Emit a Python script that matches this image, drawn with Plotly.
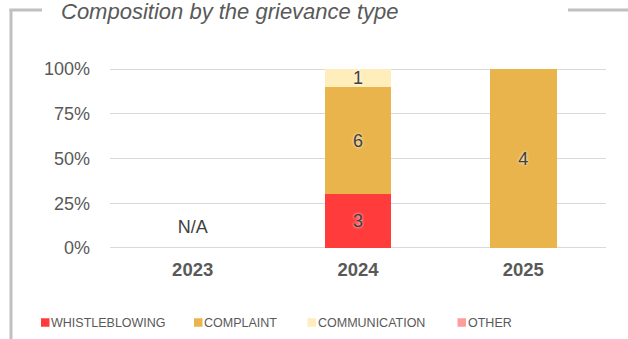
import plotly.graph_objects as go

years = ["2023", "2024", "2025"]
whistleblowing = [0, 3, 0]
complaint = [0, 6, 4]
communication = [0, 1, 0]
other = [0, 0, 0]

series_names = ["WHISTLEBLOWING", "COMPLAINT", "COMMUNICATION", "OTHER"]
series_values = [whistleblowing, complaint, communication, other]
series_colors = ["#FF3B3B", "#E9B44C", "#FFEDBB", "#FF9C9C"]

y_ticks = [0, 25, 50, 75, 100]
y_tick_labels = ["0%", "25%", "50%", "75%", "100%"]

# years without any recorded grievance
no_data_years = ["2023"]
no_data_label = "N/A"
no_data_label_y = 11

FONT = "Liberation Sans, Arial, sans-serif"
TEXT_COLOR = "#595959"

fig = go.Figure()

for name, vals, color in zip(series_names, series_values, series_colors):
    fig.add_trace(go.Bar(
        x=years, y=vals, name=name,
        marker=dict(color=color, line=dict(width=0)),
        text=[str(v) if v else "" for v in vals],
        textposition="inside", insidetextanchor="middle", textangle=0,
        constraintext="none",
        textfont=dict(family=FONT, size=18, color="#404040",
                      shadow="0px 0px 3px white"),
        showlegend=False, hoverinfo="skip",
    ))

# N/A text for empty years
fig.add_trace(go.Scatter(
    x=no_data_years, y=[no_data_label_y] * len(no_data_years),
    mode="text", text=[no_data_label] * len(no_data_years),
    textposition="middle center",
    textfont=dict(family=FONT, size=18, color="#404040"),
    showlegend=False, hoverinfo="skip",
))

# plot area in pixels
L, R, T, B = 110, 606, 68, 249
W, H = R - L, B - T

def px(x):
    return (x - L) / W

def py(y):
    return (B - y) / H

frame = dict(color="#C0C0C0", width=3)
shapes = [
    dict(type="line", xref="paper", yref="paper", x0=px(11), x1=px(11), y0=py(9), y1=py(345), line=frame),
    dict(type="line", xref="paper", yref="paper", x0=px(9.5), x1=px(42), y0=py(10), y1=py(10), line=frame),
    dict(type="line", xref="paper", yref="paper", x0=px(568), x1=px(630), y0=py(10), y1=py(10), line=frame),
]

annotations = [
    dict(text="<i>Composition by the grievance type</i>", xref="paper", yref="paper",
         x=px(59), y=py(11), xanchor="left", yanchor="middle", showarrow=False,
         font=dict(family=FONT, size=22, color=TEXT_COLOR)),
]

# legend row: square swatch followed by its label
legend_left = [41, 194, 307.5, 457.5]
legend_mid_y = 322.5
swatch = 8.5
for name, color, x0 in zip(series_names, series_colors, legend_left):
    shapes.append(dict(type="rect", xref="paper", yref="paper",
                       x0=px(x0), x1=px(x0 + swatch),
                       y0=py(legend_mid_y - swatch / 2), y1=py(legend_mid_y + swatch / 2),
                       fillcolor=color, line=dict(width=0)))
    annotations.append(dict(text=name, xref="paper", yref="paper",
                            x=px(x0 + swatch + 1.5), y=py(legend_mid_y),
                            xanchor="left", yanchor="middle", showarrow=False,
                            borderpad=0, xshift=-1,
                            font=dict(family=FONT, size=12.5, color=TEXT_COLOR)))

fig.update_layout(
    width=628, height=339,
    margin=dict(l=L, r=628 - R, t=T, b=339 - B),
    paper_bgcolor="white", plot_bgcolor="white",
    barmode="stack", barnorm="percent", bargap=0.595,
    font=dict(family=FONT, color=TEXT_COLOR),
    shapes=shapes, annotations=annotations,
    uniformtext=dict(minsize=18, mode="show"),
    showlegend=False,
    xaxis=dict(type="category", categoryorder="array", categoryarray=years,
               range=[-0.5, len(years) - 0.5],
               showgrid=False, showline=False, zeroline=False, ticks="",
               tickfont=dict(family=FONT, size=18.5, color=TEXT_COLOR, weight="bold"),
               ticklabelstandoff=7),
    yaxis=dict(range=[-0.6, 100.6], tickvals=y_ticks, ticktext=y_tick_labels,
               showgrid=True, gridcolor="#D9D9D9", gridwidth=1.3, zeroline=False,
               showline=False, ticks="",
               tickfont=dict(family=FONT, size=18, color=TEXT_COLOR),
               ticklabelstandoff=19),
)

fig.write_html("out.html")
